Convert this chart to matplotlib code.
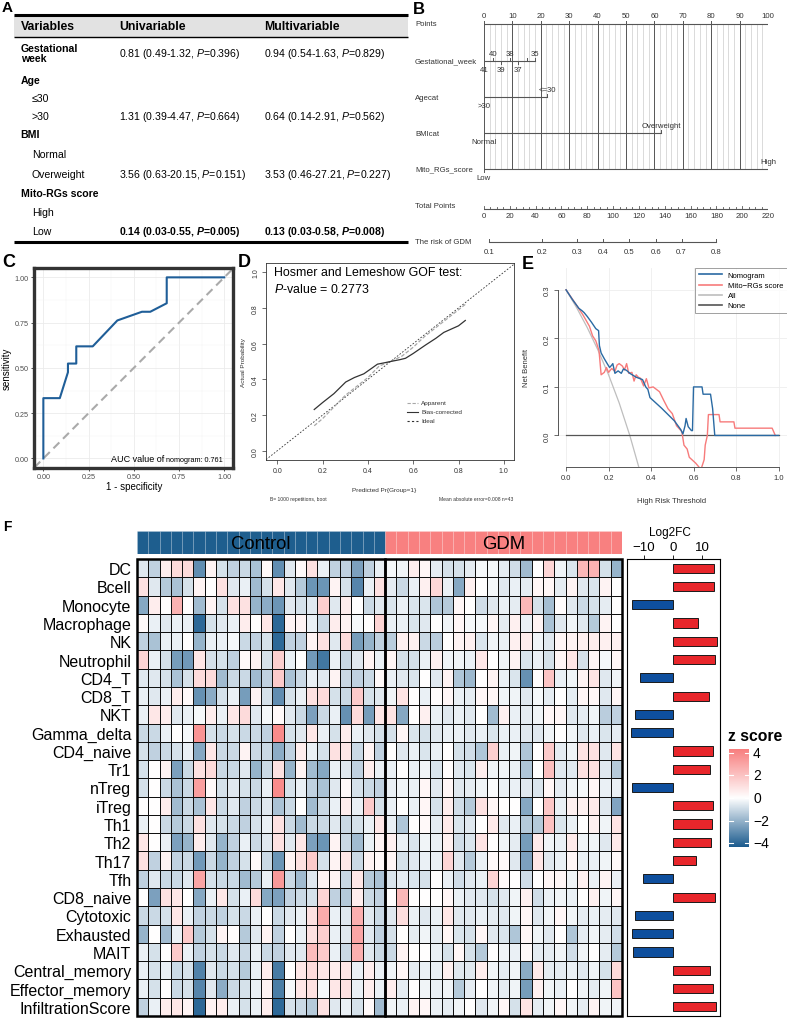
import numpy as np
import matplotlib
matplotlib.use("Agg")
import matplotlib.pyplot as plt
from matplotlib.colors import LinearSegmentedColormap, Normalize
from matplotlib.patches import Rectangle
from matplotlib.lines import Line2D

plt.rcParams['font.family'] = ['Liberation Sans', 'DejaVu Sans']
plt.rcParams['mathtext.fontset'] = 'custom'
plt.rcParams['mathtext.rm'] = 'Liberation Sans'
plt.rcParams['mathtext.it'] = 'Liberation Sans:italic'
plt.rcParams['mathtext.bf'] = 'Liberation Sans:bold'
plt.rcParams['mathtext.bfit'] = 'Liberation Sans:italic:bold'

# ---------------- data ----------------
# Panel A (table)
tab_labels = ["Gestational\nweek", "Age", "≤30", ">30", "BMI", "Normal", "Overweight",
              "Mito-RGs score", "High", "Low"]
tab_is_group = [True, True, False, False, True, False, False, True, False, False]
tab_uni = ["0.81 (0.49-1.32, P=0.396)", "", "", "1.31 (0.39-4.47, P=0.664)", "", "",
           "3.56 (0.63-20.15, P=0.151)", "", "", "0.14 (0.03-0.55, P=0.005)"]
tab_multi = ["0.94 (0.54-1.63, P=0.829)", "", "", "0.64 (0.14-2.91, P=0.562)", "", "",
             "3.53 (0.46-27.21, P=0.227)", "", "", "0.13 (0.03-0.58, P=0.008)"]
tab_bold_values = [False, False, False, False, False, False, False, False, False, True]

# Panel B (nomogram)
gw_labels = ["41", "40", "39", "38", "37", "36", "35"]
gw_points = [0, 3.2, 5.9, 9.0, 12.0, 15.0, 18.1]
gw_side = ["below", "above", "below", "above", "below", "", "above"]
age_labels = [">30", "<=30"]
age_points = [0, 22.3]
bmi_labels = ["Normal", "Overweight"]
bmi_points = [0, 62.4]
mito_labels = ["Low", "High"]
mito_points = [0, 100]
total_ticks = [0, 20, 40, 60, 80, 100, 120, 140, 160, 180, 200, 220]
risk_labels = ["0.1", "0.2", "0.3", "0.4", "0.5", "0.6", "0.7", "0.8"]
risk_total_points = [3.9, 44.7, 71.8, 92.0, 112.3, 133.2, 153.0, 179.6]

# Panel C (ROC)
roc_fpr = [0, 0, 0.091, 0.136, 0.136, 0.182, 0.182, 0.273, 0.409, 0.545, 0.591, 0.682, 0.682, 1.0]
roc_tpr = [0, 0.333, 0.333, 0.476, 0.524, 0.524, 0.619, 0.619, 0.762, 0.810, 0.810, 0.857, 1.0, 1.0]

# Panel D (calibration)
app_x = [0.163, 0.2, 0.25, 0.3, 0.35, 0.4, 0.45, 0.5, 0.55, 0.6, 0.65, 0.7, 0.75, 0.8, 0.83]
app_y = [0.14, 0.18, 0.245, 0.31, 0.36, 0.41, 0.475, 0.50, 0.53, 0.58, 0.64, 0.69, 0.74, 0.79, 0.82]
bc_x = [0.163, 0.2, 0.25, 0.302, 0.34, 0.382, 0.42, 0.442, 0.47, 0.5, 0.54, 0.566, 0.6, 0.654, 0.7, 0.735, 0.8, 0.83]
bc_y = [0.231, 0.27, 0.32, 0.385, 0.41, 0.431, 0.465, 0.485, 0.492, 0.50, 0.51, 0.518, 0.545, 0.592, 0.63, 0.663, 0.70, 0.73]

# Panel E (decision curve)
nomo_x = [0.0, 0.03, 0.06, 0.075, 0.085, 0.1, 0.12, 0.14, 0.153, 0.157, 0.165, 0.18, 0.195, 0.205,
          0.215, 0.22, 0.23, 0.245, 0.26, 0.27, 0.285, 0.3, 0.33, 0.36, 0.375, 0.385, 0.395, 0.42,
          0.45, 0.48, 0.51, 0.54, 0.55, 0.56, 0.565, 0.575, 0.59, 0.595, 0.6, 0.64, 0.645, 0.68,
          0.69, 0.7, 1.0]
nomo_y = [0.3, 0.28, 0.262, 0.257, 0.253, 0.245, 0.233, 0.22, 0.216, 0.185, 0.17, 0.158, 0.147,
          0.14, 0.145, 0.148, 0.128, 0.133, 0.128, 0.137, 0.134, 0.128, 0.12, 0.115, 0.1, 0.095,
          0.078, 0.068, 0.056, 0.043, 0.03, 0.012, 0.003, 0.02, 0.035, 0.018, 0.01, 0.01, 0.1, 0.1,
          0.085, 0.085, 0.055, 0.0, 0.0]
mito_x = [0.0, 0.05, 0.08, 0.11, 0.125, 0.14, 0.155, 0.16, 0.165, 0.18, 0.19, 0.2, 0.215, 0.23,
          0.24, 0.25, 0.265, 0.275, 0.285, 0.295, 0.31, 0.32, 0.33, 0.34, 0.35, 0.365, 0.378, 0.39,
          0.41, 0.44, 0.46, 0.48, 0.5, 0.52, 0.545, 0.555, 0.57, 0.58, 0.61, 0.635, 0.65, 0.655,
          0.665, 0.67, 0.72, 0.725, 0.79, 0.795, 0.97, 0.985]
mito_y = [0.3, 0.268, 0.248, 0.225, 0.205, 0.195, 0.175, 0.15, 0.125, 0.13, 0.14, 0.13, 0.138,
          0.132, 0.145, 0.148, 0.143, 0.135, 0.148, 0.128, 0.13, 0.112, 0.125, 0.12, 0.118, 0.102,
          0.117, 0.098, 0.1, 0.09, 0.072, 0.055, 0.045, 0.02, 0.008, -0.02, -0.028, -0.045, -0.057,
          -0.07, -0.05, -0.02, 0.0, 0.043, 0.043, 0.028, 0.028, 0.015, 0.015, 0.0]
all_x = [0.0, 0.05, 0.1, 0.15, 0.2, 0.25, 0.3, 0.35]
all_y = [0.3, 0.263, 0.222, 0.176, 0.125, 0.067, 0.0, -0.077]

# Panel F (heatmap)
cell_types = ["DC", "Bcell", "Monocyte", "Macrophage", "NK", "Neutrophil", "CD4_T", "CD8_T", "NKT",
              "Gamma_delta", "CD4_naive", "Tr1", "nTreg", "iTreg", "Th1", "Th2", "Th17", "Tfh",
              "CD8_naive", "Cytotoxic", "Exhausted", "MAIT", "Central_memory", "Effector_memory",
              "InfiltrationScore"]
z_control = [
    [-0.6, -1.2, 0.6, 1.2, 1.2, -3.0, 0.4, -0.8, -1.2, -1.0, -1.6, 0.2, -3.0, -0.6, 0.2, 1.0, -0.4, -1.2, -1.2, -2.5, -1.2, -0.4],
    [1.0, -0.6, -1.4, -1.6, -0.8, 0.4, 0.0, 1.0, -0.6, -0.4, -1.8, -0.8, 0.8, -0.6, -1.4, -2.8, -2.8, 0.4, -0.8, -3.2, -0.4, 1.0],
    [-2.3, 0.6, 0.0, 2.6, 0.1, -1.8, 0.4, -0.8, 1.0, 1.0, -2.0, -2.2, -2.8, -0.6, -0.8, -0.6, 1.6, -0.6, 0.6, 0.0, -1.0, -0.6],
    [0.2, -0.4, -0.6, -0.4, -0.4, -4.0, -0.8, -0.6, -0.4, 0.6, 0.0, 0.8, -4.0, 0.4, 0.4, -0.4, -1.0, 0.6, 0.4, -0.2, 0.0, 1.4],
    [-1.2, -1.6, -0.4, -0.4, 0.0, -2.0, -0.4, -0.4, -0.2, -1.0, -1.2, -0.8, -4.0, -1.2, -1.2, 0.4, 1.0, -0.6, 1.2, -2.6, -2.0, -1.2],
    [1.4, -0.4, -0.8, -2.6, -2.7, 0.8, -0.8, -0.8, -1.2, 0.2, 0.4, -0.8, 1.6, -0.4, 0.0, -2.7, -3.6, -0.4, -1.0, -0.6, 0.4, -0.4],
    [-0.6, -0.6, -0.8, -1.6, -0.8, 1.2, 1.2, -1.8, -1.0, -1.0, -1.8, -1.2, 1.8, -1.6, -1.0, -0.4, -0.6, 0.4, -1.0, -1.2, -1.0, 0.2],
    [-0.4, -0.6, -0.4, 0.6, 0.2, -2.9, -2.2, -0.8, -0.4, -2.6, 0.4, -0.8, -3.0, -0.8, -0.4, 1.0, 1.2, -0.8, -1.0, 1.8, -0.8, -0.6],
    [-0.4, 0.8, 0.6, -0.6, -0.4, -0.2, 0.6, -0.4, 0.8, 1.2, -0.6, -0.2, 0.2, -0.6, -1.0, -2.5, -1.0, -0.4, -2.9, 1.2, -2.6, 0.8],
    [-1.0, -1.0, -0.4, 0.0, -0.2, 3.6, -0.8, -1.0, -0.8, -1.0, -1.0, -1.2, 3.9, -0.8, -0.6, 0.8, -0.4, -0.8, 0.6, -0.4, -0.6, -0.8],
    [-0.8, -1.2, -1.0, -0.8, -0.4, -2.3, 0.8, -1.0, -1.0, 0.4, -1.0, -1.0, -2.2, -1.2, 0.6, -0.4, -0.8, 1.0, 0.8, -1.0, 0.4, -1.2],
    [-0.8, 0.0, 0.4, -2.5, -1.0, 1.0, 1.2, -1.0, -1.0, -0.6, -2.0, -1.0, 1.0, -2.0, 0.4, -1.8, -2.3, -0.4, -0.6, -1.2, 0.6, -0.4],
    [-0.8, 0.0, -1.0, -1.6, -1.0, 3.2, 0.2, -0.8, -0.6, -0.8, -1.0, -0.4, 3.9, -0.8, -0.4, -1.2, -1.6, -0.6, 0.2, -0.8, -1.0, -1.2],
    [0.0, 0.0, 0.6, -1.8, -1.0, -1.6, 0.8, -1.0, -0.6, -1.2, -1.0, -0.6, -1.6, -1.0, 0.0, -1.8, -1.0, -0.4, 0.6, -0.4, 1.8, -0.8],
    [-0.4, 0.0, -1.0, -1.4, -1.0, 1.0, -0.6, -0.8, -1.0, -1.2, -0.8, -0.4, 1.0, -1.0, -1.8, -1.0, -1.0, -0.6, -1.0, -0.8, -0.4, 0.8],
    [0.8, 0.0, -0.4, -2.5, -2.0, 0.6, -0.6, -2.0, -1.2, -0.4, -1.0, -0.6, 1.0, -0.6, 0.8, -2.5, -2.8, 0.4, -1.0, -1.8, -0.4, 0.4],
    [1.0, -1.2, 0.4, -1.2, -1.0, -2.7, -1.0, -2.0, -1.2, -0.8, 0.2, -1.0, -2.8, 0.4, 1.0, 1.8, -0.8, 0.4, 0.8, -1.0, 0.4, 0.2],
    [-1.2, -0.6, -1.0, -1.0, -0.6, 3.0, -0.8, -1.0, -1.0, -1.8, -1.4, -0.4, 3.4, -1.0, -1.8, -0.6, 0.4, 0.4, -1.0, 0.8, -1.4, -1.6],
    [0.0, -2.5, 1.0, 0.8, 0.0, -2.3, -0.4, 0.8, -0.8, -0.4, 1.2, -2.3, -2.5, -1.2, -1.0, -0.8, 1.4, -1.2, -1.4, 0.6, -1.0, -1.2],
    [-1.0, -1.0, -0.8, 0.8, -0.4, -1.2, -1.0, -1.2, -0.8, -1.0, -0.4, 0.0, -1.0, -0.6, -0.4, 1.0, 2.8, -0.4, -0.6, 2.7, -0.6, -1.0],
    [-2.0, 0.0, -1.8, -0.4, 1.8, -1.4, -0.8, 0.4, 0.1, -1.4, -0.6, 0.4, -1.2, 0.0, -0.4, 1.0, 1.6, -0.4, -0.6, 3.0, -0.6, -1.2],
    [-0.4, -0.8, 0.0, 1.8, -0.4, -1.2, -0.8, -1.0, -0.6, -1.0, -0.4, -1.0, -1.2, -0.6, -0.6, 2.3, 1.8, -0.4, -1.0, 2.7, -0.6, -1.0],
    [-0.4, -0.8, -0.4, -1.0, -0.8, -3.3, -0.6, -1.0, -0.8, -1.4, -0.4, 0.6, -3.5, 0.0, 0.8, 1.2, 0.8, 0.6, 0.8, -0.4, 0.6, -0.4],
    [-0.4, -0.8, 0.0, -1.0, -0.8, -3.2, -0.6, -2.2, -1.0, -0.8, -0.4, 0.4, -3.4, -0.2, 0.8, 1.0, -0.2, 0.8, 1.0, -0.4, 0.6, -0.4],
    [-1.2, -0.4, 0.6, 0.8, 0.4, -4.0, 0.4, 0.6, -0.4, -0.8, -0.4, 0.6, -4.0, -0.8, -1.0, -1.4, 1.0, -0.6, -0.4, -0.8, 0.2, -1.8],
]
z_gdm = [
    [-0.2, -0.3, 0.6, 0.3, -0.5, -0.8, -0.8, -0.5, -0.2, -0.2, -0.5, -0.9, -1.8, 0.0, 1.4, -0.3, -0.7, 2.4, 2.6, -0.8, -2.0],
    [-0.5, -1.0, -0.4, 0.5, 1.3, -0.4, -2.3, 0.5, 0.0, -0.2, -0.6, -0.4, -0.5, 0.3, 0.3, -0.5, 0.4, -0.6, -0.7, 0.4, 0.0],
    [-0.7, -0.4, -0.7, -0.7, -1.5, -1.4, 0.3, 0.0, -0.9, -0.6, -0.4, -0.5, 2.4, -0.8, -1.7, 0.1, -0.6, -1.0, -0.8, -0.5, 0.0],
    [-0.4, -0.4, -0.7, -0.6, 0.0, -0.3, 0.3, -0.2, -0.2, 0.3, -0.5, 0.5, -0.4, 0.4, -1.6, -0.6, -0.3, -0.6, -1.4, 0.4, 0.0],
    [-1.3, 0.5, 0.5, -1.0, -1.3, 0.0, 0.4, 0.5, -0.7, -0.3, -0.4, 0.5, 0.6, -0.3, -0.6, 0.3, 0.4, 0.5, 0.6, 0.5, 0.5],
    [0.3, -0.8, -0.8, -0.4, 0.5, -0.3, -0.3, -0.4, 0.8, 0.0, -0.3, 0.4, -0.7, -0.4, -0.8, 0.3, 0.8, -0.8, 0.3, -0.2, 0.3],
    [-0.4, -0.6, -0.7, 0.0, -0.6, 0.4, -1.5, -1.9, 0.0, 0.4, -0.4, -0.7, -2.9, 0.1, 2.0, -0.4, -0.3, 0.4, 0.9, -0.6, -0.3],
    [-0.3, 0.9, 0.0, -0.4, 0.1, 0.3, -0.4, -0.5, 0.3, 0.3, -0.3, -0.3, -0.6, -0.2, -0.5, 0.0, -0.5, 0.3, 0.3, -0.6, 0.3],
    [0.9, -2.3, 0.0, 0.5, -0.4, -0.6, -0.4, -0.6, 0.0, -1.8, 0.5, -0.4, -0.5, -0.3, 0.3, 0.3, -0.6, -0.5, -0.3, -1.3, -1.2],
    [-0.8, 0.3, -0.7, -0.8, -0.6, -0.4, -0.4, -0.6, -0.4, -0.7, -0.4, -0.4, -0.6, -0.6, -0.3, 0.0, -0.3, -0.6, -0.4, -0.7, -0.5],
    [0.0, -0.6, -0.4, -0.7, -0.4, 0.0, -0.8, -0.9, -1.5, 1.6, -0.4, -0.3, -1.5, 0.0, 1.8, -0.5, -0.3, 0.9, 1.0, -0.6, 0.9],
    [-0.4, 0.0, -0.4, -0.3, -0.7, 0.1, -0.6, -0.7, 0.6, -0.3, -0.3, -0.4, -1.5, 0.0, 2.2, -0.6, -0.6, 1.0, 1.0, -0.6, -1.4],
    [-0.4, -0.3, -0.4, 0.3, -0.6, 0.3, -0.6, -0.5, -0.3, -0.1, -0.4, -0.4, -0.6, -0.7, 0.3, -0.5, -0.3, -0.2, 0.3, -0.4, -0.4],
    [-0.4, 0.0, -0.4, 0.3, -0.8, 0.6, -0.9, -1.4, 1.0, 0.3, 0.0, 0.0, -2.3, 0.0, 1.9, -0.4, 0.5, 0.5, 0.7, -0.6, -2.4],
    [-0.4, -1.5, 0.0, 0.2, -0.5, 0.7, -0.7, -0.6, 0.0, 0.7, -0.6, -0.4, -1.4, -1.4, 2.1, -0.7, -0.4, 0.0, 0.5, -0.3, 0.9],
    [0.5, -0.4, -0.7, -0.3, -0.4, 0.5, -0.9, -0.7, 0.9, 0.0, -0.3, -0.5, -2.6, 0.7, -0.3, -0.4, 0.7, -0.3, -0.3, -0.6, 0.7],
    [0.3, -0.8, -0.6, -0.4, -0.4, 1.4, -0.6, -1.4, -0.4, 0.2, 0.2, -0.6, -2.5, 0.8, -0.6, -0.4, 0.3, -0.4, -0.4, -0.3, 0.2],
    [-0.7, -0.5, -0.7, -0.8, 0.0, -0.4, -0.9, -0.6, -0.4, 1.4, 0.2, 0.0, -0.9, 0.0, 0.3, 0.3, -0.3, 0.5, -0.4, 0.4, -0.4],
    [0.0, 2.4, 0.0, 0.0, 0.0, 0.3, -0.4, -0.6, -0.6, -0.8, -0.6, -0.3, 0.5, -0.9, -0.4, -0.3, -0.4, 0.0, 0.5, -0.3, 0.3],
    [-0.6, 1.1, -0.4, -0.6, -0.4, 0.8, -0.6, -0.6, -0.4, -0.5, -0.6, -0.3, 0.3, -0.6, -0.3, 0.3, -0.3, -0.5, -0.4, -0.5, -0.6],
    [-0.8, 0.0, -0.5, -0.3, -0.5, 0.3, -0.7, -0.8, 0.3, -0.6, -0.7, -1.5, 0.3, -0.3, -0.6, 0.0, -1.5, -0.5, -0.3, -0.5, -0.9],
    [-1.0, 0.4, 0.0, 0.0, -0.4, -0.8, 0.3, -0.8, -1.4, 0.0, -0.3, -0.4, 0.2, -0.5, -0.5, -0.3, -0.9, -0.3, 0.0, -0.5, -1.4],
    [-0.3, 0.3, -0.5, -0.4, -0.4, 0.5, -0.6, -0.6, 0.6, -0.3, -0.5, -0.3, -2.2, 0.7, -0.5, -0.5, -0.4, -0.6, -0.3, -0.8, 1.2],
    [0.6, -0.5, 0.0, -0.3, -0.4, -0.3, -1.4, -0.5, 0.0, -0.3, -0.5, -0.3, -2.6, 0.5, -0.3, -0.4, 0.0, -0.3, -0.5, -0.3, 2.0],
    [-0.3, -0.4, 0.4, 0.3, -0.4, -0.5, -0.3, 0.0, -0.6, -0.3, 0.3, -0.8, 0.9, -0.5, -0.3, 0.3, -0.3, -0.5, 0.4, -0.3, -0.3],
]
log2fc = [14.0, 14.0, -13.9, 8.5, 14.9, 14.4, -11.4, 12.3, -13.1, -14.3, 13.7, 12.5, -14.1, 13.7,
          13.3, 12.9, 7.8, -10.1, 14.4, -12.9, -14.1, -13.6, 12.6, 13.7, 14.6]
groups = ["Control", "GDM"]
group_colors = ["#1E5E8E", "#F88080"]

# ---------------- figure ----------------
W, H = 787, 1020
fig = plt.figure(figsize=(W / 100, H / 100), dpi=100)


def ax_px(x0, y0, x1, y1, **kw):
    return fig.add_axes([x0 / W, 1 - y1 / H, (x1 - x0) / W, (y1 - y0) / H], **kw)


ov = fig.add_axes([0, 0, 1, 1], zorder=10)
ov.set_xlim(0, W)
ov.set_ylim(H, 0)
ov.axis('off')
ov.patch.set_alpha(0)

# panel letters
for lab, x, y, fs in [("A", 7.5, 8, 11), ("B", 419, 9, 12), ("C", 8.5, 263, 13), ("D", 244, 263, 13),
                      ("E", 528, 265, 13), ("F", 7.5, 527, 10)]:
    ov.text(x, y, lab, fontsize=fs, fontweight='bold', ha='center', va='center')

# ---------- Panel A ----------
ov.add_patch(Rectangle((14, 16), 394, 21.5, facecolor='#E2E2E2', edgecolor='none', zorder=0))
for y, lw in [(16, 2.2), (37.5, 1.0), (243, 2.2)]:
    ov.plot([14, 408], [y, y], color='black', lw=lw, solid_capstyle='butt')
for x, t in [(20.7, "Variables"), (119.3, "Univariable"), (264.3, "Multivariable")]:
    ov.text(x, 27.5, t, fontsize=8.8, fontweight='bold', va='center')
row_y = [54, 81, 99, 117, 135, 155, 175, 194, 213, 232]
for i, lab in enumerate(tab_labels):
    x = 20.7 if tab_is_group[i] else 31.7
    ov.text(x, row_y[i], lab, fontsize=7.6, fontweight='bold' if tab_is_group[i] else 'normal',
            va='center', linespacing=1.1)
    for cx, s in [(119.3, tab_uni[i]), (264.3, tab_multi[i])]:
        if s:
            bold = tab_bold_values[i]
            s2 = s.replace("P=", (r"$\mathbfit{P}$=" if bold else r"$\mathit{P}$="))
            ov.text(cx, row_y[i], s2, fontsize=7.6, fontweight='bold' if bold else 'normal', va='center')

# ---------- Panel B (nomogram) ----------
axb = ax_px(484, 5, 768, 262)
axb.set_xlim(0, 100)
axb.set_ylim(262, 5)
axb.axis('off')
tc = '#333333'
lc = '#555555'
nfs = 5.6
y_pts, y_gw, y_age, y_bmi, y_mito, y_tot, y_risk = 25, 62, 98, 134, 170, 210, 243
for p in range(0, 101, 2):
    if p % 10 == 0:
        axb.plot([p, p], [y_pts, y_mito], color='#555555', lw=0.7, zorder=1)
    else:
        axb.plot([p, p], [y_pts, y_mito], color='#D5D5D5', lw=0.6, zorder=0)
axb.plot([0, 100], [y_pts, y_pts], color=lc, lw=0.8)
for p in range(0, 101, 10):
    axb.plot([p, p], [y_pts, y_pts - 3], color=lc, lw=0.7)
    axb.text(p, y_pts - 8, str(p), fontsize=nfs, ha='center', va='center', color=tc)
lab_x = (415 - 484) / 2.84


def nomo_row(y, pts, labs, sides, name):
    axb.plot([min(pts), max(pts)], [y, y], color=lc, lw=0.8, zorder=2)
    for p, l, s in zip(pts, labs, sides):
        if s == "above":
            axb.plot([p, p], [y, y - 3], color=lc, lw=0.7, zorder=2)
            axb.text(p, y - 8, l, fontsize=nfs, ha='center', va='center', color=tc, zorder=3)
        elif s == "below":
            axb.plot([p, p], [y, y + 3], color=lc, lw=0.7, zorder=2)
            axb.text(p, y + 9, l, fontsize=nfs, ha='center', va='center', color=tc, zorder=3)
        else:
            axb.plot([p, p], [y, y - 3], color=lc, lw=0.7, zorder=2)
    axb.text(lab_x, y, name, fontsize=nfs, ha='left', va='center', color=tc, clip_on=False)


axb.text(lab_x, y_pts, "Points", fontsize=nfs, ha='left', va='center', color=tc, clip_on=False)
nomo_row(y_gw, gw_points, gw_labels, gw_side, "Gestational_week")
nomo_row(y_age, age_points, age_labels, ["below", "above"], "Agecat")
nomo_row(y_bmi, bmi_points, bmi_labels, ["below", "above"], "BMIcat")
nomo_row(y_mito, mito_points, mito_labels, ["below", "above"], "Mito_RGs_score")

scale = 100 / 220
axb.plot([0, 100], [y_tot, y_tot], color=lc, lw=0.8)
for t in range(0, 221, 5):
    L = 3 if t % 20 == 0 else 2
    axb.plot([t * scale] * 2, [y_tot, y_tot - L], color=lc, lw=0.6)
for t in total_ticks:
    axb.text(t * scale, y_tot + 7, str(t), fontsize=nfs, ha='center', va='center', color=tc)
axb.text(lab_x, y_tot - 3, "Total Points", fontsize=nfs, ha='left', va='center', color=tc, clip_on=False)
rp = [v * scale for v in risk_total_points]
axb.plot([rp[0], rp[-1]], [y_risk, y_risk], color=lc, lw=0.8)
for p, l in zip(rp, risk_labels):
    axb.plot([p, p], [y_risk, y_risk - 3], color=lc, lw=0.7)
    axb.text(p, y_risk + 9, l, fontsize=nfs, ha='center', va='center', color=tc)
axb.text(lab_x, y_risk, "The risk of GDM", fontsize=nfs, ha='left', va='center', color=tc, clip_on=False)

# ---------- Panel C (ROC) ----------
axc = ax_px(34.3, 269.3, 233.3, 468.5)
axc.set_xlim(-0.05, 1.05)
axc.set_ylim(-0.05, 1.05)
ticks_c = [0, 0.25, 0.5, 0.75, 1.0]
axc.set_xticks(ticks_c)
axc.set_yticks(ticks_c)
axc.set_xticklabels(["0.00", "0.25", "0.50", "0.75", "1.00"])
axc.set_yticklabels(["0.00", "0.25", "0.50", "0.75", "1.00"])
axc.set_xticks([0.125, 0.375, 0.625, 0.875], minor=True)
axc.set_yticks([0.125, 0.375, 0.625, 0.875], minor=True)
axc.grid(which='major', color='#EBEBEB', lw=0.6)
axc.grid(which='minor', color='#F3F3F3', lw=0.35)
axc.set_axisbelow(True)
axc.tick_params(which='minor', length=0)
axc.tick_params(which='major', length=2.5, width=0.6, color='#333333', labelsize=5.2,
                labelcolor='#4D4D4D', pad=1.5)
axc.axline((0, 0), (1, 1), color='#AAAAAA', lw=1.5, ls=(0, (4, 2.5)))
axc.plot(roc_fpr, roc_tpr, color='#1F5E98', lw=1.5)
for s in axc.spines.values():
    s.set_linewidth(2.4)
    s.set_color('#333333')
axc.set_xlabel("1 - specificity", fontsize=7, labelpad=1)
axc.set_ylabel("sensitivity", fontsize=7, labelpad=2)
ov.text(164, 460, "AUC value of", fontsize=6.5, ha='right', va='center')
ov.text(166, 460.5, "nomogram: 0.761", fontsize=5.2, ha='left', va='center')

# ---------- Panel D (calibration) ----------
axd = ax_px(266, 264, 514, 461)
axd.set_xlim(-0.05, 1.045)
axd.set_ylim(-0.052, 1.052)
axd.axline((0, 0), (1, 1), color='#333333', lw=0.6, ls=(0, (2, 2)))
axd.plot(app_x, app_y, color='#A8A8A8', lw=0.9, ls=(0, (3, 1.5)))
axd.plot(bc_x, bc_y, color='#333333', lw=0.9)
dt = [0, 0.2, 0.4, 0.6, 0.8, 1.0]
axd.set_xticks(dt)
axd.set_yticks(dt)
axd.set_xticklabels(["0.0", "0.2", "0.4", "0.6", "0.8", "1.0"])
axd.set_yticklabels(["0.0", "0.2", "0.4", "0.6", "0.8", "1.0"], rotation=90, va='center')
axd.tick_params(length=3, width=0.5, color='#333333', labelsize=5, labelcolor='#333333', pad=2)
for s in axd.spines.values():
    s.set_linewidth(0.6)
    s.set_color('#333333')
ov.text(274, 273, "Hosmer and Lemeshow GOF test:", fontsize=8.9, ha='left', va='center')
ov.text(274, 290, r"$\mathit{P}$-value = 0.2773", fontsize=8.9, ha='left', va='center')
ov.text(243, 363, "Actual Probability", fontsize=4.6, rotation=90, ha='center', va='center', color='#333333')
ov.text(384, 491, "Predicted Pr{Group=1}", fontsize=4.6, ha='center', va='center', color='#333333')
ov.text(270, 500, "B= 1000 repetitions, boot", fontsize=3.6, ha='left', va='center', color='#333333')
ov.text(513, 500, "Mean absolute error=0.008 n=43", fontsize=3.6, ha='right', va='center', color='#333333')
for yy, sty, col, lab in [(404, (0, (3, 1.5)), '#A8A8A8', "Apparent"),
                          (413, '-', '#333333', "Bias-corrected"),
                          (422, (0, (2, 2)), '#333333', "Ideal")]:
    ov.add_line(Line2D([407, 418], [yy, yy], color=col, lw=0.8, ls=sty))
    ov.text(421, yy, lab, fontsize=4.6, ha='left', va='center', color='#333333')

# ---------- Panel E (decision curve) ----------
axe = ax_px(558, 269, 787, 468)
axe.set_xlim(-0.038, 1.04)
axe.set_ylim(-0.065, 0.345)
for gx in [0, 0.2, 0.4, 0.6, 0.8, 1.0]:
    axe.axvline(gx, color='#EEEEEE', lw=0.6, zorder=0)
for gy in [0, 0.1, 0.2, 0.3]:
    axe.axhline(gy, color='#EEEEEE', lw=0.6, zorder=0)
axe.plot(all_x, all_y, color='#BEBEBE', lw=0.9)
axe.plot([0, 1], [0, 0], color='#555555', lw=0.9)
axe.plot(mito_x, mito_y, color='#F77B7B', lw=1.0)
axe.plot(nomo_x, nomo_y, color='#2A6AA3', lw=1.0)
for s in ['top', 'right']:
    axe.spines[s].set_visible(False)
axe.spines['left'].set_bounds(0, 0.3)
axe.spines['bottom'].set_bounds(0, 1.0)
for s in ['left', 'bottom']:
    axe.spines[s].set_linewidth(0.7)
    axe.spines[s].set_color('#555555')
axe.set_xticks([0, 0.2, 0.4, 0.6, 0.8, 1.0])
axe.set_xticklabels(["0.0", "0.2", "0.4", "0.6", "0.8", "1.0"])
axe.set_yticks([0, 0.1, 0.2, 0.3])
axe.set_yticklabels(["0.0", "0.1", "0.2", "0.3"], rotation=90, va='center')
axe.tick_params(length=3, width=0.6, color='#555555', labelsize=5.5, labelcolor='#333333', pad=2)
ov.text(526, 368, "Net Benefit", fontsize=5.5, rotation=90, ha='center', va='center', color='#333333')
ov.text(672, 502, "High Risk Threshold", fontsize=5.5, ha='center', va='center', color='#333333')
handles = [Line2D([], [], color='#2A6AA3', lw=1.2), Line2D([], [], color='#F77B7B', lw=1.2),
           Line2D([], [], color='#BEBEBE', lw=1.2), Line2D([], [], color='#555555', lw=1.2)]
leg = axe.legend(handles, ["Nomogram", "Mito\u2212RGs score", "All", "None"], loc='upper right',
                 bbox_to_anchor=(1.0, 1.0), fontsize=5.5, frameon=True, fancybox=False,
                 edgecolor='#888888', borderaxespad=0, handlelength=3, labelspacing=0.35,
                 borderpad=0.5, handletextpad=0.8)
leg.get_frame().set_linewidth(0.7)

# ---------- Panel F (heatmap) ----------
Z = np.hstack([np.array(z_control), np.array(z_gdm)])
n_ctrl = len(z_control[0])
n_gdm = len(z_gdm[0])
n_rows = len(cell_types)
cmap = LinearSegmentedColormap.from_list('zs', ['#1B5B8E', '#FFFFFF', '#F87E7E'])
norm = Normalize(vmin=-4.35, vmax=4.35)

axh = ax_px(137, 560, 622, 1017)
axh.pcolormesh(np.arange(Z.shape[1] + 1), np.arange(n_rows + 1), Z, cmap=cmap, norm=norm,
               edgecolors='#111111', linewidth=0.55)
axh.set_xlim(0, Z.shape[1])
axh.set_ylim(n_rows, 0)
axh.set_xticks([])
axh.set_yticks(np.arange(n_rows) + 0.5)
axh.set_yticklabels(cell_types, fontsize=11.5)
axh.tick_params(axis='y', length=0, pad=4)
for s in axh.spines.values():
    s.set_visible(False)
axh.add_patch(Rectangle((0, 0), n_ctrl, n_rows, fill=False, lw=1.8, edgecolor='black', clip_on=False))
axh.add_patch(Rectangle((n_ctrl, 0), n_gdm, n_rows, fill=False, lw=1.8, edgecolor='black', clip_on=False))

axa = ax_px(137, 532, 622, 555)
axa.set_xlim(0, Z.shape[1])
axa.set_ylim(0, 1)
axa.axis('off')
starts = [0, n_ctrl]
sizes = [n_ctrl, n_gdm]
for g, st, sz, col in zip(groups, starts, sizes, group_colors):
    for j in range(sz):
        axa.add_patch(Rectangle((st + j, 0), 1, 1, facecolor=col, edgecolor=(1, 1, 1, 0.18), lw=0.5))
    axa.text(st + sz / 2, 0.47, g, fontsize=13.3, ha='center', va='center')

# colorbar
axcb = ax_px(729, 750, 749, 848)
grad = np.linspace(-4.35, 4.35, 256).reshape(-1, 1)
axcb.imshow(grad, aspect='auto', cmap=cmap, norm=norm, origin='lower', extent=[0, 1, -4.35, 4.35])
axcb.set_xlim(0, 1)
axcb.set_ylim(-4.35, 4.35)
axcb.axis('off')
for v, lab in zip([4, 2, 0, -2, -4], ["4", "2", "0", "\u22122", "\u22124"]):
    axcb.plot([0, 0.2], [v, v], color='white', lw=0.8)
    axcb.plot([0.8, 1], [v, v], color='white', lw=0.8)
    axcb.text(1.2, v, lab, fontsize=10, ha='left', va='center', transform=axcb.get_yaxis_transform())
ov.text(728, 737, "z score", fontsize=11.3, fontweight='bold', ha='left', va='center')

# log2FC bars
axbar = ax_px(627, 560, 720, 1017)
ypos = np.arange(n_rows) + 0.5
cols = ['#E8262B' if v > 0 else '#0E4F9E' for v in log2fc]
axbar.barh(ypos, log2fc, height=0.5, color=cols, edgecolor='#1A1A1A', lw=0.7)
axbar.set_xlim(-15.7, 16)
axbar.set_ylim(n_rows, 0)
axbar.set_yticks([])
axbar.xaxis.tick_top()
axbar.set_xticks([-10, 0, 10])
axbar.tick_params(axis='x', length=3, width=0.6, labelsize=9.5, pad=1)
for s in axbar.spines.values():
    s.set_linewidth(0.8)
ov.text(670, 533, "Log2FC", fontsize=8.5, ha='center', va='center')

fig.savefig("out.png", dpi=100)
